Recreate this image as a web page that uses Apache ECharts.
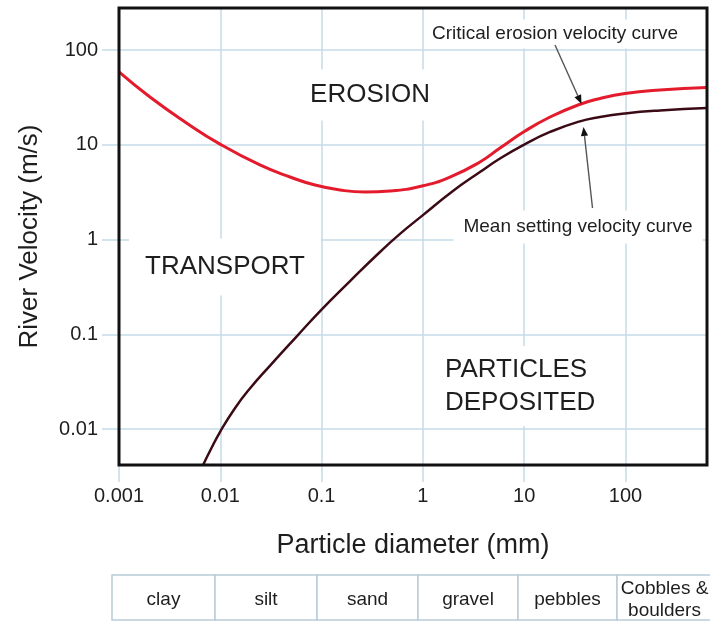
<!DOCTYPE html>
<html>
<head>
<meta charset="utf-8">
<title>Hjulström curve</title>
<script src="https://cdn.jsdelivr.net/npm/echarts@6/dist/echarts.min.js"></script>
<style>
  html, body { margin: 0; padding: 0; background: #ffffff; }
  #chart { width: 710px; height: 622px; }
</style>
</head>
<body>
<div id="chart"></div>
<script>
// Axis ticks (log scales)
const diameterTicks = [0.001, 0.01, 0.1, 1, 10, 100];
const diameterTickLabels = ['0.001', '0.01', '0.1', '1', '10', '100'];
const velocityTicks = [0.01, 0.1, 1, 10, 100];
const velocityTickLabels = ['0.01', '0.1', '1', '10', '100'];

// Critical erosion velocity curve (diameter mm, velocity m/s)
const erosionDiameter = [0.001, 0.00202, 0.00448, 0.00993, 0.0246, 0.0488, 0.0861, 0.152, 0.268, 0.473, 0.980, 1.85, 3.66, 5.77, 10.2, 18.0, 34.0, 56.0, 98.9, 219, 638];
const erosionVelocity = [58.9, 32.0, 17.5, 10.2, 6.14, 4.58, 3.77, 3.34, 3.18, 3.26, 3.68, 4.58, 6.60, 9.27, 14.0, 19.7, 26.4, 30.9, 34.9, 38.0, 40.4];

// Mean settling velocity curve
const settlingDiameter = [0.00675, 0.00809, 0.00993, 0.0140, 0.0196, 0.0310, 0.0572, 0.101, 0.191, 0.377, 0.594, 0.980, 1.98, 3.66, 5.77, 10.2, 18.0, 34.0, 56.0, 98.9, 219, 638];
const settlingVelocity = [0.00415, 0.00615, 0.00930, 0.0167, 0.0268, 0.0468, 0.0959, 0.185, 0.365, 0.740, 1.15, 1.78, 3.26, 5.17, 7.18, 10.2, 13.7, 17.5, 19.7, 21.5, 23.1, 24.5];

// Particle size classes shown in the strip below the chart
const sizeClasses = ['clay', 'silt', 'sand', 'gravel', 'pebbles', 'Cobbles &\nboulders'];

const FONT = '"Liberation Sans", Arial, Helvetica, sans-serif';
const GRID_COLOR = '#c4dbe8';
const TEXT_COLOR = '#1e1e1e';

function pairs(xs, ys) { return xs.map((x, i) => [x, ys[i]]); }
function tickLabel(ticks, labels) {
  return function (v) {
    const i = ticks.findIndex(t => Math.abs(Math.log10(t) - Math.log10(v)) < 1e-6);
    return i >= 0 ? labels[i] : '';
  };
}

// Plot box
const box = { left: 119, top: 8, width: 588, height: 457 };

function arrow(x1, y1, x2, y2) {
  const dx = x2 - x1, dy = y2 - y1, L = Math.hypot(dx, dy);
  const ux = dx / L, uy = dy / L, len = 9, hw = 3.6;
  const bx = x2 - ux * len, by = y2 - uy * len;
  return [
    { type: 'line', z: 10, shape: { x1: x1, y1: y1, x2: bx, y2: by }, style: { stroke: '#555', lineWidth: 1.4 } },
    { type: 'polygon', z: 10, shape: { points: [[x2, y2], [bx - uy * hw, by + ux * hw], [bx + uy * hw, by - ux * hw]] }, style: { fill: '#111' } }
  ];
}

function label(text, x, y, size, align, pad) {
  return {
    type: 'text', z: 10, x: x, y: y,
    style: {
      text: text, font: size + 'px ' + FONT, fill: TEXT_COLOR,
      align: align, verticalAlign: 'middle', lineHeight: size === 26 ? 33 : size + 2,
      backgroundColor: '#ffffff', padding: pad
    }
  };
}

// Size-class strip
const stripEdges = [112, 215, 317, 418, 518, 617, 712];
const strip = [];
sizeClasses.forEach((name, i) => {
  const x0 = stripEdges[i], x1 = stripEdges[i + 1];
  strip.push({
    type: 'rect', z: 10,
    shape: { x: x0, y: 575, width: x1 - x0, height: 45 },
    style: { fill: '#ffffff', stroke: '#b9cbd8', lineWidth: 1.5 }
  });
  strip.push({
    type: 'text', z: 11, x: (x0 + x1) / 2, y: 600,
    style: { text: name, font: '19px ' + FONT, fill: TEXT_COLOR, align: 'center', verticalAlign: 'middle', lineHeight: 22 }
  });
});

const chart = echarts.init(document.getElementById('chart'), null, { renderer: 'canvas' });

chart.setOption({
  animation: false,
  backgroundColor: '#ffffff',
  grid: { left: box.left, top: box.top, width: box.width, height: box.height, show: false, containLabel: false },
  xAxis: {
    type: 'log', logBase: 10, min: 0.001, max: 638,
    axisLine: { show: false },
    axisTick: { show: true, length: 17, customValues: diameterTicks, lineStyle: { color: GRID_COLOR, width: 1.5 } },
    axisLabel: { customValues: diameterTicks, formatter: tickLabel(diameterTicks, diameterTickLabels), fontSize: 20, color: TEXT_COLOR, fontFamily: FONT, margin: 21 },
    splitLine: { show: true, lineStyle: { color: GRID_COLOR, width: 1.5 } },
    name: 'Particle diameter (mm)', nameLocation: 'middle', nameGap: 67,
    nameTextStyle: { fontSize: 27, color: TEXT_COLOR, fontFamily: FONT }
  },
  yAxis: {
    type: 'log', logBase: 10, min: 0.00417, max: 279,
    axisLine: { show: false },
    axisTick: { show: true, length: 17, customValues: velocityTicks, lineStyle: { color: GRID_COLOR, width: 1.5 } },
    axisLabel: { customValues: velocityTicks, formatter: tickLabel(velocityTicks, velocityTickLabels), fontSize: 20, color: TEXT_COLOR, fontFamily: FONT, margin: 21 },
    splitLine: { show: true, lineStyle: { color: GRID_COLOR, width: 1.5 } },
    name: 'River Velocity (m/s)', nameLocation: 'middle', nameGap: 76,
    nameTextStyle: { fontSize: 26, color: TEXT_COLOR, fontFamily: FONT }
  },
  series: [
    {
      name: 'Critical erosion velocity curve', type: 'line', smooth: 0.5, showSymbol: false, clip: true,
      data: pairs(erosionDiameter, erosionVelocity),
      lineStyle: { color: '#e41b2c', width: 3 }
    },
    {
      name: 'Mean setting velocity curve', type: 'line', smooth: 0.5, showSymbol: false, clip: true,
      data: pairs(settlingDiameter, settlingVelocity),
      lineStyle: { color: '#3a0b15', width: 2.5 }
    }
  ],
  graphic: [
    { type: 'rect', z: 12, shape: { x: box.left, y: box.top, width: box.width, height: box.height }, style: { fill: 'none', stroke: '#111', lineWidth: 3 } },
    label('EROSION', 370, 95, 26, 'center', [9, 10]),
    label('TRANSPORT', 225, 267, 26, 'center', [12, 16]),
    label('PARTICLES\nDEPOSITED', 435, 386, 26, 'left', [7, 10]),
    label('Critical erosion velocity curve', 555, 34, 19, 'center', [4, 6]),
    label('Mean setting velocity curve', 578, 227, 19, 'center', [6, 10])
  ].concat(arrow(555, 45, 581.5, 104), arrow(592.5, 208, 583.5, 127), strip)
});
</script>
</body>
</html>
